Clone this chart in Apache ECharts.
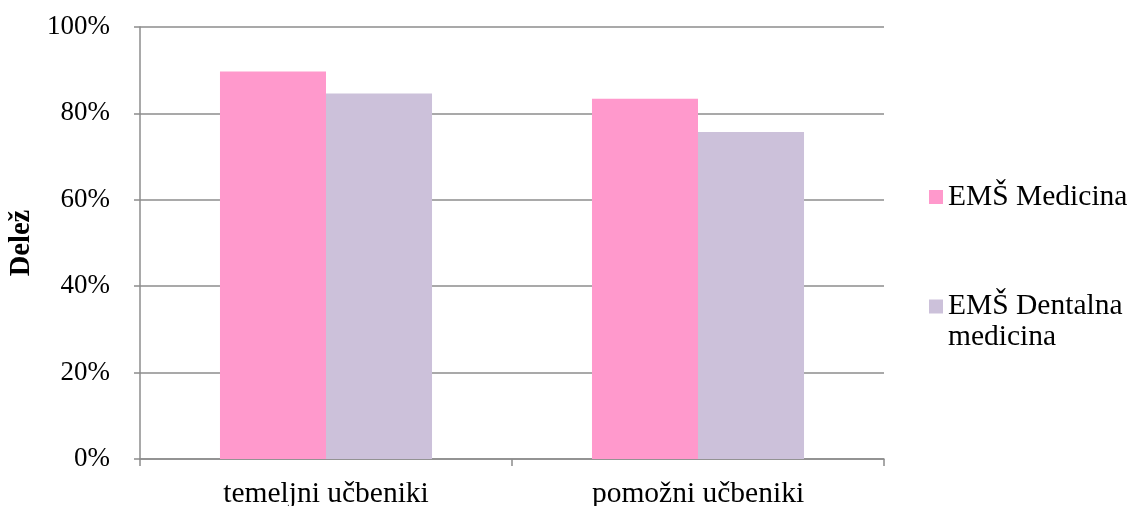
<!DOCTYPE html>
<html>
<head>
<meta charset="utf-8">
<script src="https://cdn.jsdelivr.net/npm/echarts@6/dist/echarts.min.js"></script>
<style>html,body{margin:0;padding:0;background:#fff}#c{width:1130px;height:506px}</style>
</head>
<body>
<div id="c"></div>
<script>
const categories = ['temeljni učbeniki', 'pomožni učbeniki'];
const seriesNames = ['EMŠ Medicina', 'EMŠ Dentalna medicina'];
const medicina = [89.7, 83.4];
const dentalna = [84.6, 75.7];
const yTicks = [0, 20, 40, 60, 80, 100];

const font = '"Liberation Serif", "Times New Roman", serif';
const chart = echarts.init(document.getElementById('c'));
chart.setOption({
  animation: false,
  backgroundColor: '#fff',
  textStyle: { fontFamily: font, color: '#000' },
  grid: { left: 140, right: 246, top: 27, bottom: 47, containLabel: false, outerBoundsMode: 'none' },
  legend: [
    {
      orient: 'vertical', left: 929, top: 181, padding: 0,
      itemWidth: 14, itemHeight: 14,
      icon: 'rect',
      data: [seriesNames[0]],
      textStyle: { fontFamily: font, fontSize: 29.5, color: '#000', lineHeight: 32 }
    },
    {
      orient: 'vertical', left: 929, top: 260, padding: 0,
      itemWidth: 14, itemHeight: 14,
      icon: 'rect',
      data: [seriesNames[1]],
      formatter: n => ' \n' + n.replace('Dentalna ', 'Dentalna\n'),
      textStyle: { fontFamily: font, fontSize: 29.5, color: '#000', lineHeight: 31 }
    }
  ],
  xAxis: {
    type: 'category',
    data: categories,
    axisLine: { lineStyle: { color: '#8c8c8c', width: 1.5 } },
    axisTick: { show: true, length: 7, lineStyle: { color: '#8c8c8c', width: 1.5 } },
    axisLabel: { fontFamily: font, fontSize: 29.5, color: '#000', margin: 20 }
  },
  yAxis: {
    type: 'value',
    min: 0, max: 100, interval: 20,
    name: 'Delež',
    nameLocation: 'middle',
    nameGap: 100,
    nameRotate: 90,
    nameTextStyle: { fontFamily: font, fontSize: 28.5, fontWeight: 'bold', color: '#000' },
    axisLine: { show: true, lineStyle: { color: '#8c8c8c', width: 1.5 } },
    axisTick: { show: true, length: 6, lineStyle: { color: '#8c8c8c', width: 1.5 } },
    splitLine: { show: true, lineStyle: { color: '#8c8c8c', width: 1.5 } },
    axisLabel: {
      fontFamily: font, fontSize: 27, color: '#000', margin: 30,
      formatter: v => yTicks.includes(v) ? v + '%' : ''
    }
  },
  series: [
    {
      name: seriesNames[0], type: 'bar', data: medicina,
      itemStyle: { color: '#FF99CC' },
      barGap: '0%', barCategoryGap: '43%'
    },
    {
      name: seriesNames[1], type: 'bar', data: dentalna,
      itemStyle: { color: '#CCC1DA' },
      barGap: '0%', barCategoryGap: '43%'
    }
  ]
});
</script>
</body>
</html>
